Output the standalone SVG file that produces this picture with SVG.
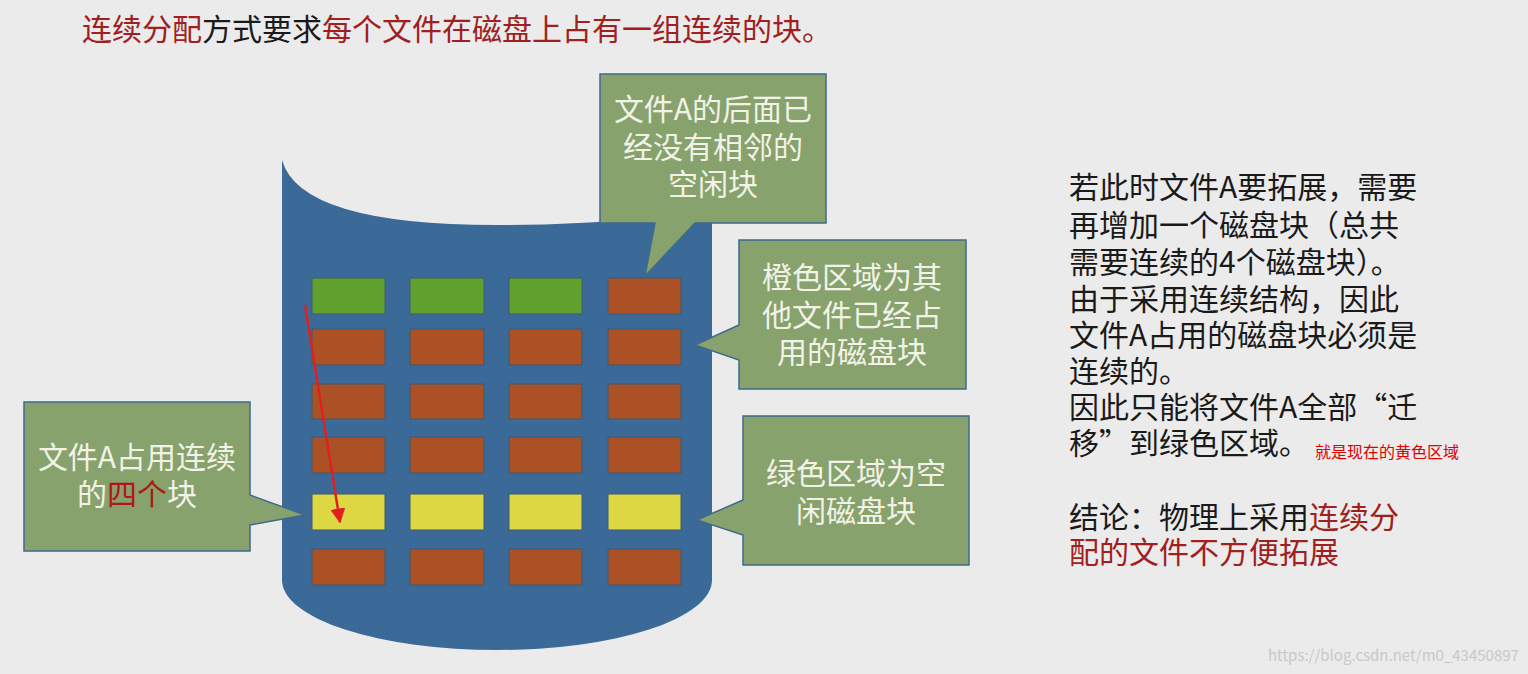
<svg xmlns="http://www.w3.org/2000/svg" width="1528" height="674" viewBox="0 0 1528 674">
<style>
text{font-family:"Noto Sans CJK SC","Liberation Sans",sans-serif}
.t{font-size:30px;fill:#1a1a1a}
.r{fill:#a02020}
.c{font-size:30px;fill:#f2f2e8;text-anchor:middle}
.call{fill:#87a26c;stroke:#3f6a8c;stroke-width:1.5}
.g{fill:#62a02e;stroke:#3a5a70}
.o{fill:#ab5125;stroke:#3a5a70}
.y{fill:#dcd743;stroke:#3a5a70}
</style>
<defs><marker id="ah" viewBox="0 0 10 10" refX="9" refY="5" markerWidth="6" markerHeight="6" orient="auto"><path d="M0,0L10,5L0,10z" fill="#e02020"/></marker></defs>
<rect width="1528" height="674" fill="#ebebeb"/>
<text x="82" y="40" class="t"><tspan class="r">连续分配</tspan>方式要求<tspan class="r">每个文件在磁盘上占有一组连续的块。</tspan></text>
<g id="disk"><path d="M282,160 Q300,225 497,225 Q660,225 712,200 L712,580 A215,70 0 0 1 282,580 Z" fill="#3b6a99"/>
<g>
<rect x="312" y="278" width="73" height="36" class="g"/><rect x="410" y="278" width="74" height="36" class="g"/><rect x="509" y="278" width="73" height="36" class="g"/><rect x="608" y="278" width="73" height="36" class="o"/>
<rect x="312" y="329" width="73" height="36" class="o"/><rect x="410" y="329" width="74" height="36" class="o"/><rect x="509" y="329" width="73" height="36" class="o"/><rect x="608" y="329" width="73" height="36" class="o"/>
<rect x="312" y="384" width="73" height="35" class="o"/><rect x="410" y="384" width="74" height="35" class="o"/><rect x="509" y="384" width="73" height="35" class="o"/><rect x="608" y="384" width="73" height="35" class="o"/>
<rect x="312" y="437" width="73" height="36" class="o"/><rect x="410" y="437" width="74" height="36" class="o"/><rect x="509" y="437" width="73" height="36" class="o"/><rect x="608" y="437" width="73" height="36" class="o"/>
<rect x="312" y="494" width="73" height="36" class="y"/><rect x="410" y="494" width="74" height="36" class="y"/><rect x="509" y="494" width="73" height="36" class="y"/><rect x="608" y="494" width="73" height="36" class="y"/>
<rect x="312" y="549" width="73" height="36" class="o"/><rect x="410" y="549" width="74" height="36" class="o"/><rect x="509" y="549" width="73" height="36" class="o"/><rect x="608" y="549" width="73" height="36" class="o"/>
</g></g>
<g id="callout1"><path d="M600,74H826V223H695L645,276L655,223H600Z" class="call"/>
<text class="c"><tspan x="713" y="120">文件A的后面已</tspan><tspan x="713" y="158">经没有相邻的</tspan><tspan x="713" y="195">空闲块</tspan></text></g>
<g id="callout2"><path d="M739,240H966V389H739V360L695,345L739,325Z" class="call"/>
<text class="c"><tspan x="852" y="288">橙色区域为其</tspan><tspan x="852" y="326">他文件已经占</tspan><tspan x="852" y="363">用的磁盘块</tspan></text></g>
<g id="callout3"><path d="M743,416H969V565H743V535L697,520L743,500Z" class="call"/>
<text class="c"><tspan x="856" y="484">绿色区域为空</tspan><tspan x="856" y="522">闲磁盘块</tspan></text></g>
<g id="callout4"><path d="M24,402H250V495L305,515L250,525V551H24Z" class="call"/>
<text class="c"><tspan x="137" y="468">文件A占用连续</tspan><tspan x="137" y="505">的<tspan fill="#b01818">四个</tspan>块</tspan></text></g>
<g id="connectors"><line x1="305" y1="305" x2="340" y2="522" stroke="#e02020" stroke-width="2.5" marker-end="url(#ah)"/></g>
<g id="notes"><text class="t"><tspan x="1069" y="198">若此时文件A要拓展，需要</tspan><tspan x="1069" y="236">再增加一个磁盘块（总共</tspan><tspan x="1069" y="273">需要连续的4个磁盘块）。</tspan><tspan x="1069" y="310">由于采用连续结构，因此</tspan><tspan x="1069" y="346">文件A占用的磁盘块必须是</tspan><tspan x="1069" y="382">连续的。</tspan><tspan x="1069" y="418">因此只能将文件A全部“迁</tspan><tspan x="1069" y="454">移”到绿色区域。</tspan></text>
<text x="1315" y="458" font-size="16" fill="#e00000">就是现在的黄色区域</text>
<text class="t"><tspan x="1069" y="528">结论：物理上采用<tspan class="r">连续分</tspan></tspan><tspan x="1069" y="563" class="r">配的文件不方便拓展</tspan></text>
<text x="1268" y="661" font-size="15" fill="#c8c8c8">https://blog.csdn.net/m0_43450897</text></g>
</svg>
